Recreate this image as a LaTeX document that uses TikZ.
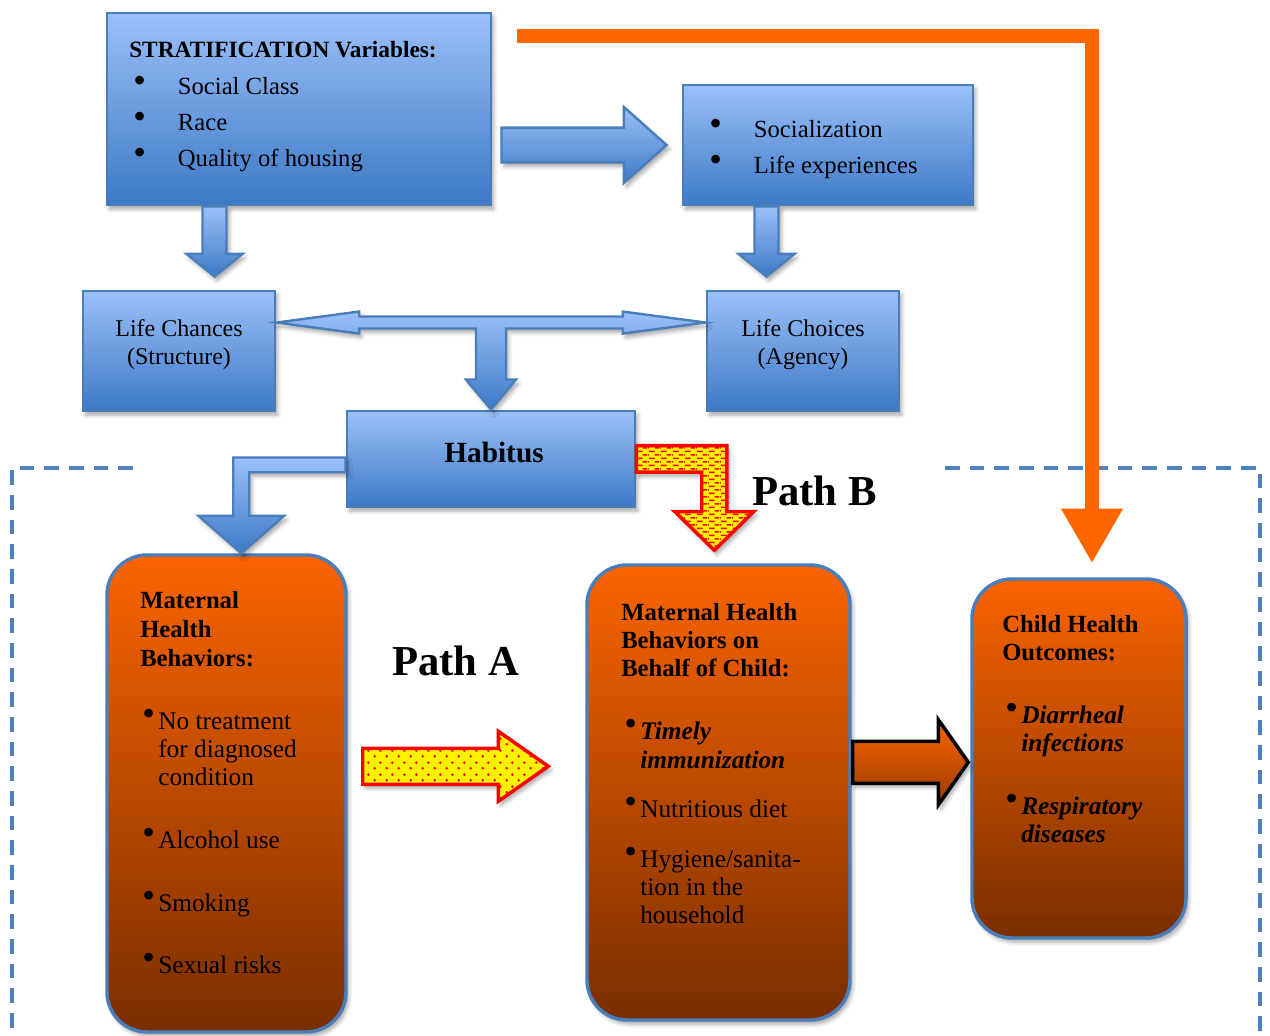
\documentclass[tikz,border=0pt]{standalone}
\usepackage{fontspec}
\setmainfont{Liberation Serif}
\usetikzlibrary{calc, fit, shadows.blur, patterns.meta, arrows.meta}

\definecolor{boxline}{HTML}{4A7EBB}
\definecolor{bluetop}{HTML}{9BC0F8}
\definecolor{bluebot}{HTML}{3D79C6}
\definecolor{orangetop}{HTML}{FA6400}
\definecolor{orangebot}{HTML}{7A2E00}
\definecolor{arrowbot}{HTML}{9A3B00}
\definecolor{flash}{HTML}{FF6600}
\definecolor{dashblue}{HTML}{4F81BD}

% fill patterns for the two path arrows
\tikzdeclarepattern{
  name=redspots, type=uncolored,
  bottom left={(0pt,0pt)}, top right={(9pt,9pt)}, tile size={(9pt,9pt)},
  code={\fill (2.25pt,2.25pt) circle (1.1pt); \fill (6.75pt,6.75pt) circle (1.1pt);}
}
\tikzdeclarepattern{
  name=reddashes, type=uncolored,
  bottom left={(0pt,0pt)}, top right={(9pt,5.5pt)}, tile size={(9pt,5.5pt)},
  code={\fill (0.75pt,0.7pt) rectangle (5.25pt,2pt);
        \fill (5.25pt,3.45pt) rectangle (9pt,4.75pt);
        \fill (0pt,3.45pt) rectangle (0.75pt,4.75pt);}
}

% bullets
\newcommand\bigdot{{\fontsize{27}{27}\selectfont\textbullet}}
\newcommand\blt{\makebox[33.5pt][l]{\raisebox{1pt}{\bigdot}}}
\newcommand\obl{\llap{\raisebox{3pt}{\bigdot}\hspace{2.5pt}}}

% block arrows between two points: style, from, to, half shaft, half head, head length
\newcommand\blockright[6]{%
  \path[#1] let \p1=(#2), \p2=(#3) in
    (\x1,\y1+#4) -- (\x2-#6,\y1+#4) -- (\x2-#6,\y1+#5) -- (\x2,\y1)
    -- (\x2-#6,\y1-#5) -- (\x2-#6,\y1-#4) -- (\x1,\y1-#4) -- cycle;}
\newcommand\blockdown[6]{%
  \path[#1] let \p1=(#2), \p2=(#3) in
    (\x1-#4,\y1) -- (\x1-#4,\y2+#6) -- (\x1-#5,\y2+#6) -- (\x1,\y2)
    -- (\x1+#5,\y2+#6) -- (\x1+#4,\y2+#6) -- (\x1+#4,\y1) -- cycle;}

\tikzset{
  softshadow/.style={blur shadow={shadow xshift=2pt, shadow yshift=-3pt,
      shadow blur radius=3pt, shadow opacity=35}},
  bluebox/.style={draw=boxline, line width=2.2pt, top color=bluetop,
      bottom color=bluebot, inner sep=0pt, softshadow},
  orangebox/.style={draw=boxline, line width=2.6pt, rounded corners=30pt,
      top color=orangetop, bottom color=orangebot, inner sep=0pt, softshadow},
  bluearrow/.style={draw=boxline, line width=1.8pt, top color=bluetop,
      bottom color=bluebot, softshadow},
  spotarrow/.style={draw=red, line width=2.6pt, softshadow,
      preaction={fill=yellow}, pattern={redspots}, pattern color=red},
  dasharrow/.style={draw=red, line width=2.6pt, softshadow,
      preaction={fill=yellow}, pattern={reddashes}, pattern color=red},
  darkarrow/.style={draw=black, line width=2.6pt, top color=orangetop,
      bottom color=arrowbot, softshadow},
  flashline/.style={draw=flash, line width=10.5pt,
      -{Triangle[width=43.5pt, length=41pt]}},
  frameline/.style={draw=dashblue, line width=2.8pt, dash pattern=on 11pt off 7.5pt},
  txt/.style={inner sep=0pt, text=black},
}

\begin{document}
\begin{tikzpicture}[x=0.75pt, y=-0.75pt]
\useasboundingbox (0,0) rectangle (1270,1035);

% dashed frame round the lower part
\draw[frameline] (133,468) -- (12,468) -- (12,1045);
\draw[frameline] (945,468) -- (1260,468) -- (1260,1045);

% upper boxes
\node[bluebox, fit={(107,13) (491,205)}] (strat) {};
\node[bluebox, fit={(683,85) (973,205)}] (social) {};
\node[bluebox, fit={(83,291) (275,411)}] (chances) {};
\node[bluebox, fit={(707,291) (899,411)}] (choices) {};
\node[bluebox, fit={(347,411) (635,507)}] (habitus) {};

% lower boxes
\node[orangebox, fit={(107,555) (346,1032)}] (mhb) {};
\node[orangebox, fit={(587,565) (850,1020)}] (mhc) {};
\node[orangebox, fit={(972,579) (1186,938)}] (cho) {};

% texts (base = baseline of the last line)
\node[txt, anchor=base west, font=\bfseries\fontsize{17.5}{27}\selectfont] (stratH) at (129,57)
  {STRATIFICATION Variables:};
\node[txt, anchor=base west, align=left, font=\fontsize{18.5}{27}\selectfont] (stratL) at (133,166)
  {\blt Social Class\\\blt Race\\\blt Quality of housing};
\node[txt, anchor=base west, align=left, font=\fontsize{18.5}{27}\selectfont] (socialL) at (709,173)
  {\blt Socialization\\\blt Life experiences};
\node[txt, align=center, font=\fontsize{18}{21}\selectfont] (chancesT) at ($(chances.center)+(0,-6)$)
  {Life Chances\\(Structure)};
\node[txt, align=center, font=\fontsize{18}{21}\selectfont] (choicesT) at ($(choices.center)+(0,-6)$)
  {Life Choices\\(Agency)};
\node[txt, font=\bfseries\fontsize{22}{26}\selectfont] (habitusT) at ($(habitus.center)+(3,-7)$) {Habitus};
\node[txt, anchor=base west, font=\bfseries\fontsize{32}{38}\selectfont] (pathB) at (752,505) {Path B};
\node[txt, anchor=base west, font=\bfseries\fontsize{32}{38}\selectfont] (pathA) at (392,675) {Path A};

\node[txt, anchor=base west, align=left, font=\bfseries\fontsize{18.5}{21.4}\selectfont] (mhbH) at (140,666)
  {Maternal\\Health\\Behaviors:};
\node[txt, anchor=base west, align=left, font=\fontsize{19}{21}\selectfont] (mhbL) at (158,973)
  {\obl No treatment\\for diagnosed\\condition\\[26pt]\obl Alcohol use\\[26pt]\obl Smoking\\[25.5pt]\obl Sexual risks};
\node[txt, anchor=base west, align=left, font=\bfseries\fontsize{18.5}{21}\selectfont] (mhcH) at (621,676)
  {Maternal Health\\Behaviors on\\Behalf of Child:};
\node[txt, anchor=base west, align=left, font=\fontsize{19}{21}\selectfont] (mhcL) at (640,923)
  {\obl\textbf{\textit{Timely}}\\[0.75pt]\textbf{\textit{immunization}}\\[15.75pt]\obl Nutritious diet\\[16.5pt]\obl Hygiene/sanita-\\tion in the\\household};
\node[txt, anchor=base west, align=left, font=\bfseries\fontsize{18.5}{21}\selectfont] (choH) at (1002,660)
  {Child Health\\Outcomes:};
\node[txt, anchor=base west, align=left, font=\fontsize{19}{21}\selectfont] (choL) at (1021,842)
  {\obl\textbf{\textit{Diarrheal}}\\\textbf{\textit{infections}}\\[26.25pt]\obl\textbf{\textit{Respiratory}}\\\textbf{\textit{diseases}}};

% blue block arrows
\blockright{bluearrow}{$(strat.east |- social.west)+(9,0)$}{$(social.west)+(-15,0)$}{13pt}{28.5pt}{32pt}
\blockdown{bluearrow}{$(strat.south west)+(109,0)$}{$(chances.north west)+(133,-13)$}{9pt}{21pt}{17pt}
\blockdown{bluearrow}{$(social.south west)+(85,0)$}{$(choices.north west)+(61,-13)$}{9pt}{21pt}{17pt}

% chances <-> choices, down into habitus
\path[bluearrow] let \p1=($(chances.north east)+(0,33)$), \p2=($(choices.north west)+(0,33)$),
    \p3=(habitus.north) in
  (\x1,\y1) -- (\x1+62pt,\y1+8.25pt) -- (\x1+62pt,\y1+4.5pt) -- (\x2-62pt,\y1+4.5pt)
  -- (\x2-62pt,\y1+8.25pt) -- (\x2,\y1) -- (\x2-62pt,\y1-8.25pt) -- (\x2-62pt,\y1-4.5pt)
  -- (\x3+11.25pt,\y1-4.5pt) -- (\x3+11.25pt,\y3+22.5pt) -- (\x3+18.75pt,\y3+22.5pt) -- (\x3,\y3)
  -- (\x3-18.75pt,\y3+22.5pt) -- (\x3-11.25pt,\y3+22.5pt) -- (\x3-11.25pt,\y1-4.5pt)
  -- (\x1+62pt,\y1-4.5pt) -- (\x1+62pt,\y1-8.25pt) -- cycle;

% habitus to maternal behaviours
\path[bluearrow] let \p1=($(habitus.north west)+(0,48)$), \p2=($(mhb.north west)+(136,0)$) in
  (\x1,\y1) -- (\x2-6pt,\y1) -- (\x2-6pt,\y2+28pt) -- (\x2-32pt,\y2+28pt) -- (\x2,\y2)
  -- (\x2+32pt,\y2+28pt) -- (\x2+6pt,\y2+28pt) -- (\x2+6pt,\y1-11pt) -- (\x1,\y1-11pt) -- cycle;

% path B
\path[dasharrow] let \p1=($(habitus.north east)+(0,36)$), \p2=($(mhc.north west)+(129,-13)$) in
  (\x1,\y1) -- (\x2+9.4pt,\y1) -- (\x2+9.4pt,\y2+29pt) -- (\x2+29.6pt,\y2+29pt) -- (\x2,\y2)
  -- (\x2-29.6pt,\y2+29pt) -- (\x2-9.4pt,\y2+29pt) -- (\x2-9.4pt,\y1-20pt) -- (\x1,\y1-20pt) -- cycle;

% path A and the outcome arrow
\blockright{spotarrow}{$(mhb.north east)+(15,213)$}{$(mhc.north west)+(-37,203)$}{13.5pt}{26.25pt}{37.5pt}
\blockright{darkarrow}{$(mhc.north east)+(1,199)$}{$(cho.north west)+(-2,185)$}{15.75pt}{32pt}{22.5pt}

% stratification straight to child outcomes
\draw[flashline] ($(strat.north east)+(25,24)$) -| ($(cho.north)+(13,-14)$);

\end{tikzpicture}
\end{document}
